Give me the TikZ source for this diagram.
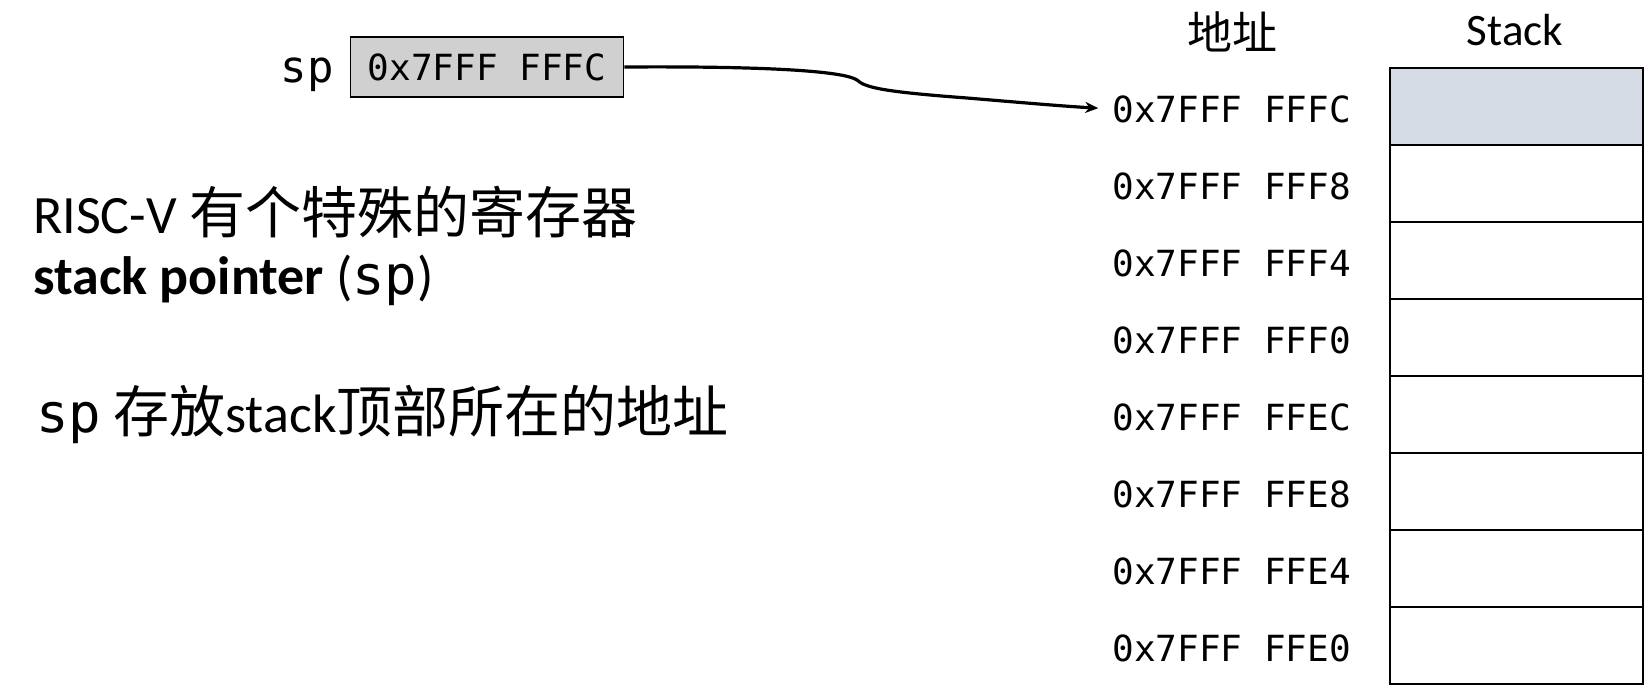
\documentclass[tikz,border=0pt]{standalone}
\usepackage{fontspec}
\setmainfont{Carlito}
\newfontfamily\cjk{Noto Sans CJK SC}
\newfontfamily\mono{DejaVu Sans Mono}
\usetikzlibrary{arrows.meta}
\definecolor{regfill}{RGB}{208,208,208}
\definecolor{topfill}{RGB}{214,220,229}
\tikzset{
  addr/.style={inner sep=0pt, anchor=east, font=\mono\fontsize{36}{40}\selectfont},
  cell/.style={draw, line width=2.2pt, minimum width=253pt, minimum height=77pt, inner sep=0pt},
  regbox/.style={draw, line width=1.8pt, fill=regfill, minimum width=273pt, minimum height=60pt, inner sep=0pt, font=\mono\fontsize{36}{40}\selectfont},
  bigtext/.style={inner sep=0pt, anchor=base west, font=\fontsize{54}{60}\selectfont},
  head/.style={inner sep=0pt, font=\fontsize{45}{50}\selectfont},
  ptr/.style={line width=3.2pt, -{Stealth[length=13pt,width=11pt]}}
}
\begin{document}
\begin{tikzpicture}[x=1pt,y=-1pt]
\useasboundingbox (0,0) rectangle (1651,693);
% register
\node[regbox] (reg) at (487,67) {0x7FFF FFFC};
\node[inner sep=0pt, anchor=base east, font=\mono\fontsize{44}{48}\selectfont] (splabel) at (334,82) {sp};
% headers
\node[head] (hdraddr) at (1232,32) {\cjk 地址};
\node[head] (hdrstack) at (1515,30) {Stack};
% stack cells
\node[cell, fill=topfill] (c1) at (1516.5,106.5) {};
\node[cell] (c2) at (1516.5,183.5) {};
\node[cell] (c3) at (1516.5,260.5) {};
\node[cell] (c4) at (1516.5,337.5) {};
\node[cell] (c5) at (1516.5,414.5) {};
\node[cell] (c6) at (1516.5,491.5) {};
\node[cell] (c7) at (1516.5,568.5) {};
\node[cell] (c8) at (1516.5,645.5) {};
% addresses
\node[addr] (a1) at (1351,109) {0x7FFF FFFC};
\node[addr] (a2) at (1351,186) {0x7FFF FFF8};
\node[addr] (a3) at (1351,263) {0x7FFF FFF4};
\node[addr] (a4) at (1351,340) {0x7FFF FFF0};
\node[addr] (a5) at (1351,417) {0x7FFF FFEC};
\node[addr] (a6) at (1351,494) {0x7FFF FFE8};
\node[addr] (a7) at (1351,571) {0x7FFF FFE4};
\node[addr] (a8) at (1351,648) {0x7FFF FFE0};
% pointer arrow
\draw[ptr, shorten >=14pt] (reg.east) .. controls (780,66) and (845,72) .. (857,80)
   .. controls (865,88) and (887,92) .. (967,98)
   .. controls (1015,102) and (1060,106) .. (a1.west);
% left text
\node[bigtext] (line1) at (33,233) {RISC-V {\cjk\fontsize{56}{60}\selectfont 有个特殊的寄存器}};
\node[bigtext] (line2) at (33,294) {\textbf{stack pointer} ({\mono sp})};
\node[bigtext] (line3) at (36,432) {{\mono sp} {\cjk\fontsize{56}{60}\selectfont 存放}stack{\cjk\fontsize{56}{60}\selectfont 顶部所在的地址}};
\end{tikzpicture}
\end{document}
